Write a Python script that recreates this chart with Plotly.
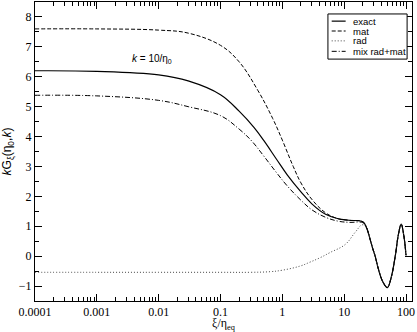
import plotly.graph_objects as go

# shared oscillating tail (all curves coincide here)
tail_x = [22.8, 26.3, 29.0, 31.7, 36.0, 42.0, 49.8, 57.0, 67.0, 75.0, 83.6, 92.0, 100.0]
tail_y = [0.97, 0.56, 0.25, 0.0, -0.45, -0.85, -1.05, -0.75, 0.0, 0.7, 1.07, 0.7, 0.03]

exact_x = [1e-4, 1e-3, 0.01, 0.03, 0.1, 0.2, 0.35, 0.5, 0.8, 1.2, 2.0, 3.0, 5.0, 8.0, 12.0, 20.0]
exact_y = [6.2, 6.18, 6.06, 5.86, 5.4, 4.85, 4.3, 3.87, 3.25, 2.72, 2.15, 1.75, 1.4, 1.25, 1.2, 1.15]

mat_x = [1e-4, 1e-3, 0.01, 0.03, 0.1, 0.2, 0.4, 0.7, 1.0, 1.5, 2.0, 3.0, 5.0, 8.0, 12.0, 20.0]
mat_y = [7.6, 7.6, 7.56, 7.46, 7.05, 6.5, 5.55, 4.6, 3.88, 3.0, 2.45, 1.9, 1.45, 1.25, 1.2, 1.15]

rad_x = [1e-4, 1e-3, 0.01, 0.1, 0.3, 0.63, 1.0, 1.95, 2.8, 4.1, 5.9, 10.4, 15.1, 19.6]
rad_y = [-0.54, -0.54, -0.54, -0.54, -0.54, -0.52, -0.47, -0.33, -0.2, -0.05, 0.12, 0.39, 0.8, 1.05]

mix_x = [1e-4, 1e-3, 0.01, 0.03, 0.1, 0.2, 0.32, 0.5, 0.8, 1.2, 2.0, 3.0, 5.0, 8.0, 12.0, 20.0]
mix_y = [5.38, 5.36, 5.21, 5.0, 4.7, 4.25, 3.85, 3.35, 2.8, 2.35, 1.87, 1.55, 1.3, 1.17, 1.13, 1.12]

major_x = [1e-4, 1e-3, 1e-2, 0.1, 1, 10, 100]
major_lbl = ["0.0001", "0.001", "0.01", "0.1", "1", "10", "100"]
minor_x = [k * v for v in major_x[:-1] for k in range(2, 10)]

series = [
    ("exact", exact_x, exact_y, "solid", 1.2, "black"),
    ("mat", mat_x, mat_y, "4px,2px", 1, "black"),
    ("rad", rad_x, rad_y, "1px,2px", 1, "#444"),
    ("mix rad+mat", mix_x, mix_y, "5px,2px,1px,2px", 1, "black"),
]

fig = go.Figure()
for name, xs, ys, dash, w, col in series:
    fig.add_trace(go.Scatter(
        x=xs + tail_x, y=ys + tail_y, name=name, mode="lines", showlegend=False,
        line=dict(color=col, dash=dash, width=w, shape="spline", smoothing=1.1)
    ))
# invisible trace so the minor-tick axis gets drawn
fig.add_trace(go.Scatter(x=[major_x[0]], y=[0], xaxis="x2", mode="markers",
                         marker=dict(opacity=0), showlegend=False, hoverinfo="skip"))

# legend box drawn by hand so the rows can sit as tight as in the original
fig.add_shape(type="rect", xref="paper", yref="paper", x0=0.777, x1=0.987, y0=0.809, y1=0.96,
              line=dict(color="black", width=1), fillcolor="white", layer="above")
row_y = [0.936, 0.903, 0.870, 0.835]
for (name, xs, ys, dash, w, col), ry in zip(series, row_y):
    fig.add_shape(type="line", xref="paper", yref="paper", x0=0.787, x1=0.824, y0=ry, y1=ry,
                  line=dict(color=col, dash=dash, width=w), layer="above")
    fig.add_annotation(x=0.838, y=ry, xref="paper", yref="paper", showarrow=False,
                       xanchor="left", yanchor="middle", text=name,
                       font=dict(family="Liberation Sans", size=9.5, color="black"))

fig.add_annotation(
    x=-2.11, y=6.6, xref="x", yref="y", showarrow=False,
    text="<i>k</i> = 10/η<sub>0</sub>",
    font=dict(family="Liberation Sans", size=10, color="black")
)

axis_common = dict(
    showline=True, linecolor="black", linewidth=1, mirror="ticks", automargin=False,
    ticks="inside", ticklen=7, tickcolor="black", showgrid=False, zeroline=False,
    tickfont=dict(family="Liberation Serif", size=12, color="black"),
)

fig.update_layout(
    xaxis=dict(
        type="log", range=[-4, 2.097], tickvals=major_x, ticktext=major_lbl,
        title=dict(text="ξ/η<sub>eq</sub>", standoff=3,
                   font=dict(family="Liberation Serif", size=12, color="black")),
        **axis_common
    ),
    xaxis2=dict(
        type="log", range=[-4, 2.097], overlaying="x", matches="x", side="bottom",
        tickvals=minor_x, showticklabels=False, ticks="inside", ticklen=4,
        tickcolor="black", mirror="ticks", showline=False, showgrid=False,
        zeroline=False, automargin=False,
    ),
    yaxis=dict(
        range=[-1.5, 8.5], dtick=1,
        minor=dict(ticks="inside", ticklen=4, dtick=0.5, tickcolor="black", showgrid=False),
        title=dict(text="<i>k</i>G<sub>ξ</sub>(η<sub>0</sub>,<i>k</i>)", standoff=4,
                   font=dict(family="Liberation Sans", size=12, color="black")),
        **axis_common
    ),
    width=417, height=332,
    margin=dict(l=35, r=5, t=2, b=31),
    plot_bgcolor="white", paper_bgcolor="white",
    showlegend=False,
)

fig.write_html("out.html", config={"displayModeBar": False},
               post_script="document.body.style.margin='0';")
